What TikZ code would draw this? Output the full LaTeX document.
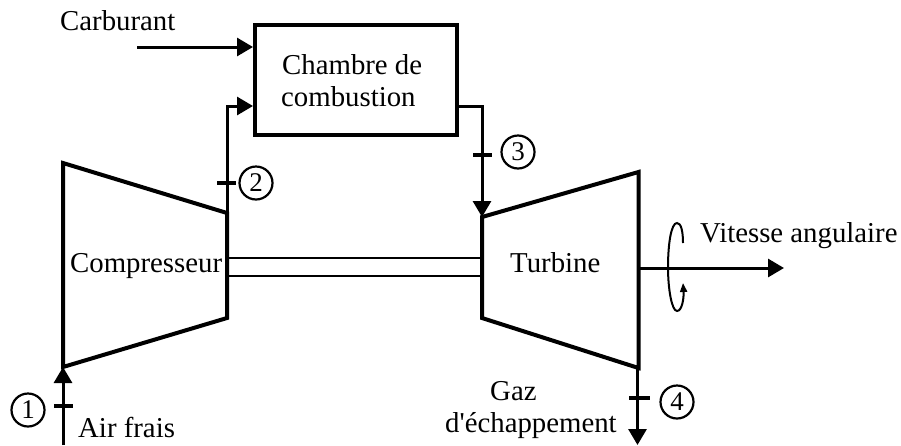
\documentclass[tikz,border=0pt]{standalone}
\usepackage{fontspec}
\setmainfont{Liberation Serif}[Ligatures=TeXOff]
\usetikzlibrary{arrows.meta,calc}
\tikzset{
  thickline/.style={line width=4pt,line join=miter},
  thinline/.style={line width=2.8pt},
  flow/.style={line width=3pt,-{Triangle[length=16pt,width=18pt]}},
  label/.style={font=\fontsize{28.8pt}{32pt}\selectfont,inner sep=0pt,anchor=base west},
  tick/.style={line width=3.4pt},
  num/.style={circle,draw,line width=2.2pt,minimum size=33pt,inner sep=0pt,font=\fontsize{27pt}{27pt}\selectfont}
}
\begin{document}
\begin{tikzpicture}[x=1pt,y=-1pt]
\useasboundingbox (0,0) rectangle (901,445);
% compressor / turbine
\draw[thickline,fill=white] (63,163) coordinate (c1) -- (227,213) coordinate (c2) -- (227,318) coordinate (c3) -- (63,367) coordinate (c4) -- cycle;
\draw[thickline,fill=white] (482,217) coordinate (t1) -- (638.5,172) coordinate (t2) -- (638.5,368) coordinate (t3) -- (482,318) coordinate (t4) -- cycle;
% shaft
\coordinate (s1) at (227,258); \coordinate (s2) at (482,258);
\coordinate (s3) at (227,276); \coordinate (s4) at (482,276);
\draw[thinline] (s1) -- (s2);
\draw[thinline] (s3) -- (s4);
% combustion chamber
\node[draw,line width=4pt,minimum width=202pt,minimum height=110pt,inner sep=0pt] (cc) at (356,80) {};
\node[label] (ch1) at (282,74) {Chambre de};
\node[label] (ch2) at (281,106) {combustion};
\node[label] (carb) at (60,30) {Carburant};
\coordinate (cin) at (137,47);
\draw[flow] (cin) -- (cin -| cc.west);
% connections to and from the chamber
\coordinate (inb) at (cc.west |- 0,106);
\coordinate (outb) at (cc.east |- 0,106);
\draw[flow] (c2) |- (inb);
\draw[flow,line join=miter] (outb) -| (t1);
% inlet
\coordinate (in) at (63,445);
\draw[flow] (in) -- (c4);
% exit
\coordinate (out) at (637.5,445);
\draw[flow] (637.5,368) -- (out);
% axis
\coordinate (ax0) at (638.5,268);
\coordinate (ax) at (784,268);
\draw[flow] (ax0) -- (ax);
\draw[line width=2pt,-{Triangle[length=9pt,width=7pt]}] (683,243) .. controls (683,231) and (681,223) .. (677,223) .. controls (671,223) and (668,245) .. (668,267) .. controls (668,290) and (672,311) .. (677,311) .. controls (682,311) and (684,298) .. (683,283);
% ticks
\draw[tick] (54,406) -- (73,406);
\draw[tick] (217,183) -- (236,183);
\draw[tick] (473,155) -- (492,155);
\draw[tick] (629,398) -- (650,398);
\node[num] (n1) at (28,410) {1};
\node[num] (n2) at (256,183) {2};
\node[num] (n3) at (518,152) {3};
\node[num] (n4) at (677,402) {4};
% labels
\node[label] (comp) at (70,272) {Compresseur};
\node[label] (turb) at (510,272) {Turbine};
\node[label] (vit) at (700,242) {Vitesse angulaire};
\node[label] (air) at (78,437) {Air frais};
\node[label] (gaz) at (490,400) {Gaz};
\node[label] (ech) at (445,432) {d'échappement};
\end{tikzpicture}
\end{document}
